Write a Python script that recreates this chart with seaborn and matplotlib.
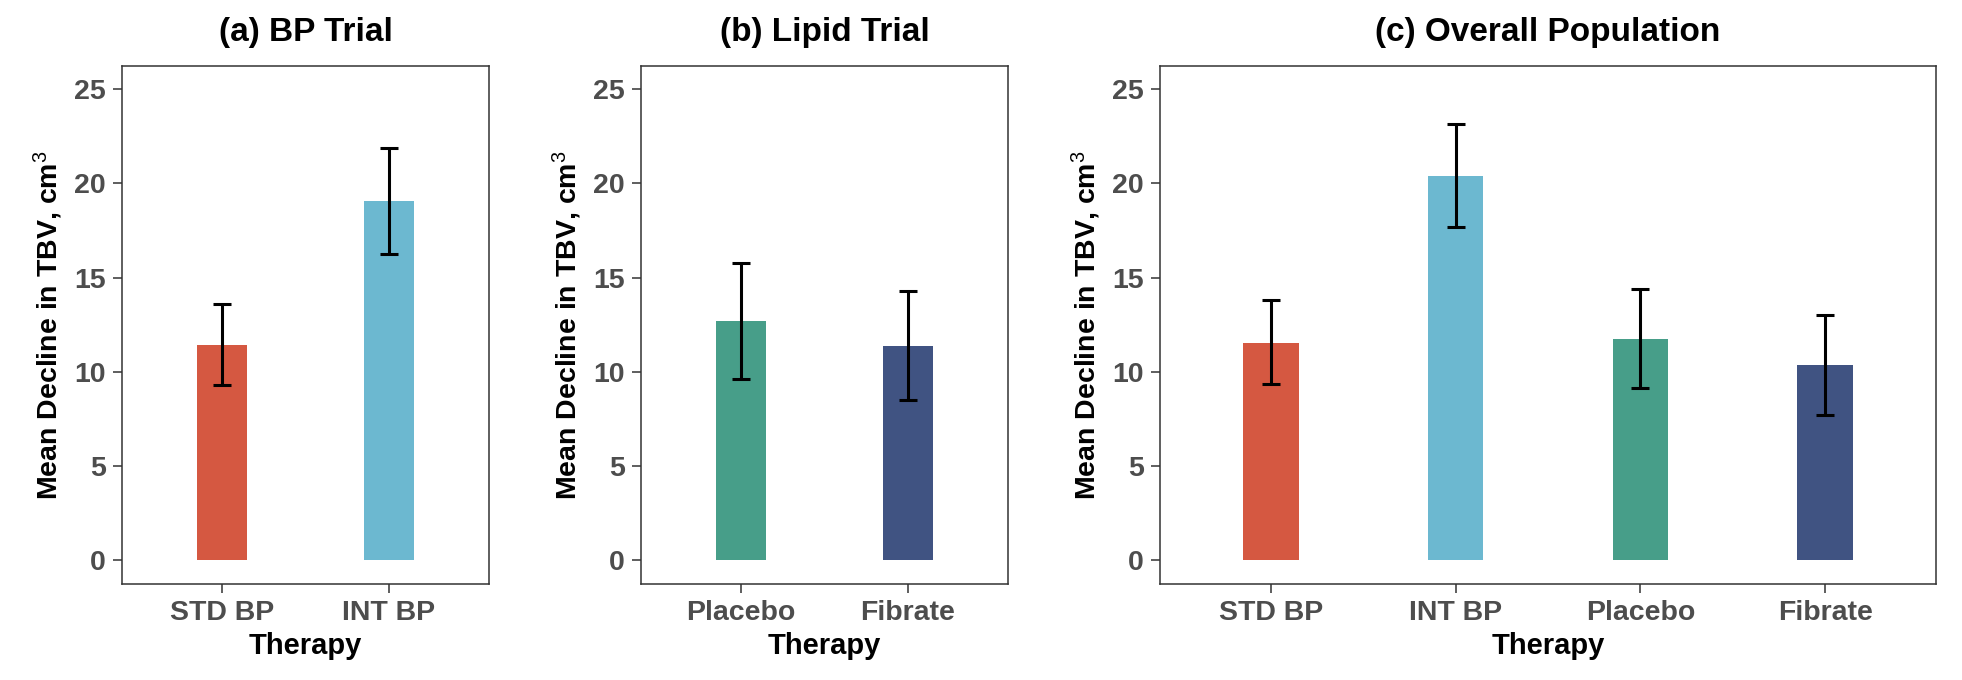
import numpy as np
import pandas as pd
import matplotlib
matplotlib.use('Agg')
import matplotlib.pyplot as plt
import seaborn as sns

# values (mean decline and error bar limits)
bp_groups = ['STD BP', 'INT BP']
bp_mean = [11.45, 19.05]
bp_lo = [9.3, 16.25]
bp_hi = [13.6, 21.9]

lipid_groups = ['Placebo', 'Fibrate']
lipid_mean = [12.7, 11.38]
lipid_lo = [9.6, 8.5]
lipid_hi = [15.8, 14.3]

all_groups = ['STD BP', 'INT BP', 'Placebo', 'Fibrate']
all_mean = [11.55, 20.4, 11.75, 10.37]
all_lo = [9.35, 17.7, 9.15, 7.7]
all_hi = [13.8, 23.15, 14.42, 13.03]

titles = ['(a) BP Trial', '(b) Lipid Trial', '(c) Overall Population']

PALETTE = {'STD BP': '#D55841', 'INT BP': '#6CB8D0',
           'Placebo': '#479E89', 'Fibrate': '#405382'}

sns.set_theme(style='white')
plt.rcParams['font.family'] = ['Liberation Sans', 'DejaVu Sans']
plt.rcParams['mathtext.fontset'] = 'custom'
plt.rcParams['mathtext.rm'] = 'Liberation Sans'
plt.rcParams['mathtext.it'] = 'Liberation Sans'

W, H = 1962, 680
fig = plt.figure(figsize=(W / 100, H / 100), dpi=100)

# axes boxes in pixels: left, right
boxes = [(122, 489), (641, 1008), (1160, 1936)]
top, bottom = 65.5, 584

panels = [
    (bp_groups, bp_mean, bp_lo, bp_hi),
    (lipid_groups, lipid_mean, lipid_lo, lipid_hi),
    (all_groups, all_mean, all_lo, all_hi),
]

for (x0, x1), (groups, mean, lo, hi), title in zip(boxes, panels, titles):
    ax = fig.add_axes([x0 / W, (H - bottom) / H, (x1 - x0) / W, (bottom - top) / H])
    df = pd.DataFrame({'Therapy': groups, 'Mean': mean})
    sns.barplot(data=df, x='Therapy', y='Mean', hue='Therapy', palette=PALETTE,
                width=0.3, errorbar=None, legend=False, ax=ax, saturation=1,
                edgecolor='none')
    pos = np.arange(len(groups))
    mean_arr = np.array(mean)
    yerr = [mean_arr - np.array(lo), np.array(hi) - mean_arr]
    ax.errorbar(pos, mean_arr, yerr=yerr, fmt='none', ecolor='black',
                elinewidth=2.2, capsize=6.3, capthick=2.2, zorder=5)

    ax.set_xlim(-0.6, len(groups) - 1 + 0.6)
    ax.set_ylim(-1.25, 26.25)
    ax.set_yticks([0, 5, 10, 15, 20, 25])

    for side in ['top', 'right', 'bottom', 'left']:
        ax.spines[side].set_visible(True)
        ax.spines[side].set_color('#333333')
        ax.spines[side].set_linewidth(1.1)
    ax.tick_params(axis='both', which='major', length=6.5, width=1.1,
                   color='#333333', labelcolor='#4D4D4D', labelsize=20.5, pad=5,
                   left=True, bottom=True)
    for lab in ax.get_xticklabels() + ax.get_yticklabels():
        lab.set_fontweight('bold')

    ax.set_title(title, fontsize=24, fontweight='bold', color='black', pad=18)
    ax.set_xlabel('Therapy', fontsize=21, fontweight='bold', color='black', labelpad=4)
    ax.set_ylabel(r'Mean Decline in TBV, cm$^3$', fontsize=20.5, fontweight='bold',
                  color='black', labelpad=7)

fig.savefig('out.png', dpi=100)
